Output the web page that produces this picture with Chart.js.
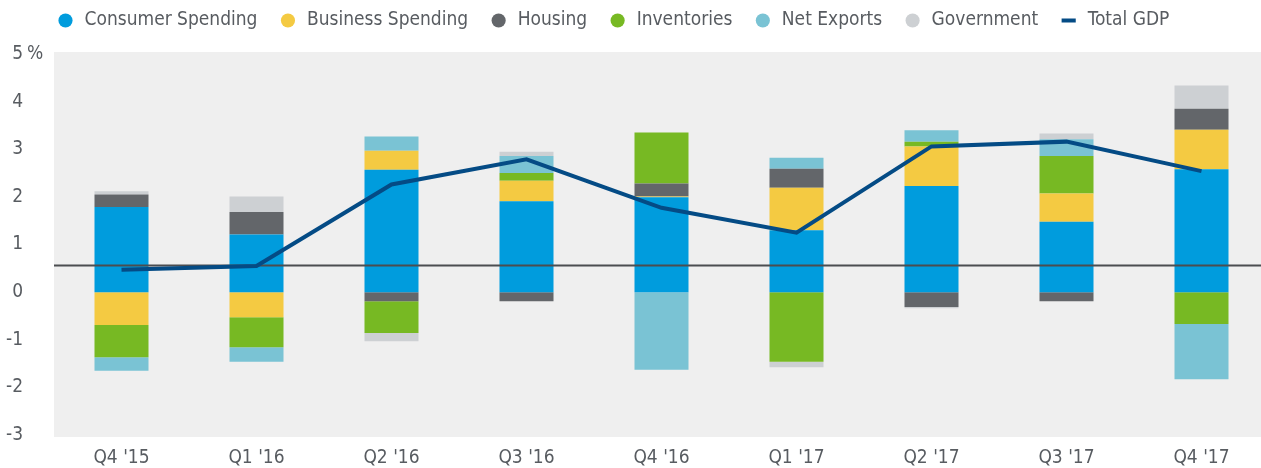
<!DOCTYPE html>
<html>
<head>
<meta charset="utf-8">
<script src="https://cdn.jsdelivr.net/npm/chart.js@4"></script>
<style>
  html, body { margin: 0; padding: 0; background: #fff; overflow: hidden; }
  #wrap { width: 1275px; height: 468px; }
</style>
</head>
<body>
<div id="wrap"><canvas id="gdpChart" width="1275" height="468"></canvas></div>
<script>
// contributions to real GDP growth, percentage points
const quarters = ["Q4 '15", "Q1 '16", "Q2 '16", "Q3 '16", "Q4 '16", "Q1 '17", "Q2 '17", "Q3 '17", "Q4 '17"];
const consumer = [1.79, 1.21, 2.57, 1.91, 1.99, 1.30, 2.23, 1.48, 2.58];
const business = [-0.69, -0.53, 0.40, 0.43, 0.02, 0.89, 0.83, 0.59, 0.83];
const housing = [0.26, 0.47, -0.19, -0.19, 0.27, 0.40, -0.31, -0.19, 0.44];
const inventories = [-0.68, -0.63, -0.67, 0.16, 1.07, -1.46, 0.10, 0.79, -0.67];
const netExports = [-0.28, -0.30, 0.30, 0.36, -1.63, 0.23, 0.24, 0.35, -1.16];
const government = [0.07, 0.33, -0.17, 0.09, 0, -0.12, -0.03, 0.12, 0.49];
const totalGdp = [0.47, 0.55, 2.26, 2.79, 1.77, 1.25, 3.06, 3.16, 2.54];
const avgGdp = 0.56;  // horizontal reference line
const yMin = -3, yMax = 5;

const FONT = "'Liberation Sans Narrow', 'DejaVu Sans Condensed', sans-serif";
const TEXT = '#585c61';

function barSet(label, data, color) {
    return {
        type: 'bar',
        label: label,
        data: data,
        backgroundColor: color,
        borderWidth: 0,
        pointStyle: 'circle',
        stack: 'gdp',
        order: 1
    };
}

const chartBits = {
    id: 'chartBits',
    afterLayout(chart) {
        // nudge the legend to where it sits in the original
        chart.legend.left = 35;
        chart.legend.top = -10;
    },
    beforeDraw(chart) {
        const a = chart.chartArea;
        const c = chart.ctx;
        c.save();
        c.fillStyle = '#efefef';
        c.fillRect(a.left, a.top - 2, a.right - a.left, a.bottom - a.top + 4);
        c.restore();
    },
    beforeDatasetDraw(chart, args) {
        if (args.meta.type !== 'line') return;
        const a = chart.chartArea;
        const y = chart.scales.y.getPixelForValue(avgGdp);
        const c = chart.ctx;
        c.save();
        c.strokeStyle = '#4b4d50';
        c.lineWidth = 2;
        c.beginPath();
        c.moveTo(a.left, y);
        c.lineTo(a.right, y);
        c.stroke();
        c.restore();
    },
    afterDraw(chart) {
        const y = chart.scales.y.getPixelForValue(yMax);
        const c = chart.ctx;
        c.save();
        c.font = '19px ' + FONT;
        c.fillStyle = TEXT;
        c.textAlign = 'left';
        c.textBaseline = 'middle';
        c.fillText('%', 27, y);
        c.restore();
    }
};

const ctx = document.getElementById('gdpChart').getContext('2d');
const gdpChart = new Chart(ctx, {
    data: {
        labels: quarters,
        datasets: [
            barSet('Consumer Spending', consumer, '#009cdd'),
            barSet('Business Spending', business, '#f4ca42'),
            barSet('Housing', housing, '#63666a'),
            barSet('Inventories', inventories, '#77b923'),
            barSet('Net Exports', netExports, '#7ac3d4'),
            barSet('Government', government, '#cdd0d3'),
            {
                type: 'line',
                label: 'Total GDP',
                data: totalGdp,
                borderColor: '#044b85',
                backgroundColor: '#044b85',
                borderWidth: 4,
                pointRadius: 0,
                pointStyle: 'line',
                tension: 0,
                order: 0
            }
        ]
    },
    options: {
        responsive: false,
        animation: false,
        layout: { padding: { left: 0, right: 6, top: 4, bottom: 0 } },
        datasets: {
            bar: { categoryPercentage: 1, barPercentage: 0.4 }
        },
        plugins: {
            tooltip: { enabled: false },
            legend: {
                position: 'top',
                align: 'start',
                labels: {
                    usePointStyle: true,
                    boxHeight: 10,
                    padding: 21,
                    color: TEXT,
                    font: { family: FONT, size: 19 },
                    sort: (a, b) => a.datasetIndex - b.datasetIndex
                }
            }
        },
        scales: {
            x: {
                stacked: true,
                afterFit: s => { s.height = 33; },
                grid: { display: false, drawTicks: false },
                border: { display: false },
                ticks: { color: TEXT, font: { family: FONT, size: 19 }, padding: 12 }
            },
            y: {
                stacked: true,
                min: yMin,
                max: yMax,
                afterFit: s => { s.width = 54; s.paddingTop = 0; s.paddingBottom = 0; },
                grid: { display: false, drawTicks: false },
                border: { display: false },
                ticks: { stepSize: 1, color: TEXT, font: { family: FONT, size: 19 }, padding: 31 }
            }
        }
    },
    plugins: [chartBits]
});
</script>
</body>
</html>
